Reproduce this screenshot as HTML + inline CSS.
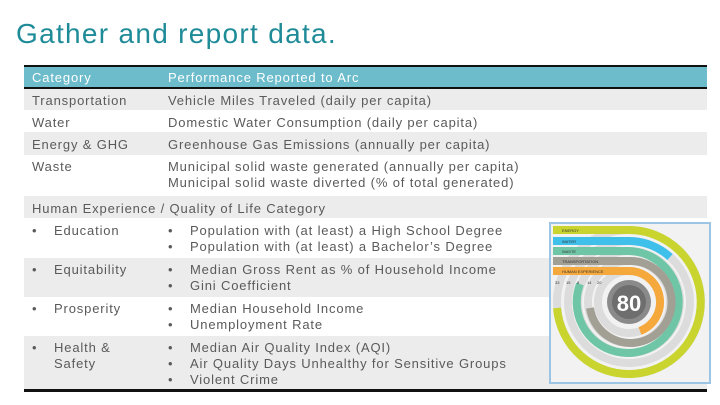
<!DOCTYPE html>
<html><head><meta charset="utf-8"><style>
*{margin:0;padding:0;box-sizing:border-box}
body{width:720px;height:405px;background:#fff;font-family:"Liberation Sans",sans-serif;position:relative;overflow:hidden;color:#5a5a5a}
.t{position:absolute;font-size:13px;line-height:16px;white-space:nowrap;letter-spacing:0.85px}
.r{position:absolute;left:24px;width:683px}
.g{background:#ececec}
h1{position:absolute;left:16px;top:18px;font-size:28px;font-weight:normal;color:#1f8b98;letter-spacing:1.3px}
</style></head><body>
<h1>Gather and report data.</h1>
<div class="r" style="top:65px;height:24px;background:#6dbccb;border-top:2px solid #111;border-bottom:2px solid #111"></div>
<div class="r g" style="top:89px;height:21px"></div>
<div class="r g" style="top:132px;height:23px"></div>
<div class="r g" style="top:196px;height:22px"></div>
<div class="r g" style="top:258px;height:39px"></div>
<div class="r g" style="top:336px;height:54px"></div>
<div class="r" style="top:389px;height:3px;background:#111"></div>

<div class="t" style="left:32px;top:70px;color:#fff">Category</div>
<div class="t" style="left:168px;top:70px;color:#fff">Performance Reported to Arc</div>
<div class="t" style="left:32px;top:93px">Transportation</div>
<div class="t" style="left:168px;top:93px">Vehicle Miles Traveled (daily per capita)</div>
<div class="t" style="left:32px;top:115px">Water</div>
<div class="t" style="left:168px;top:115px">Domestic Water Consumption (daily per capita)</div>
<div class="t" style="left:32px;top:137px">Energy &amp; GHG</div>
<div class="t" style="left:168px;top:137px">Greenhouse Gas Emissions (annually per capita)</div>
<div class="t" style="left:32px;top:159px">Waste</div>
<div class="t" style="left:168px;top:159px">Municipal solid waste generated (annually per capita)<br>Municipal solid waste diverted (% of total generated)</div>
<div class="t" style="left:32px;top:201px">Human Experience / Quality of Life Category</div>

<div class="t" style="left:32px;top:223px">•</div><div class="t" style="left:54px;top:223px">Education</div>
<div class="t" style="left:168px;top:223px">•<br>•</div><div class="t" style="left:190px;top:223px">Population with (at least) a High School Degree<br>Population with (at least) a Bachelor’s Degree</div>
<div class="t" style="left:32px;top:262px">•</div><div class="t" style="left:54px;top:262px">Equitability</div>
<div class="t" style="left:168px;top:262px">•<br>•</div><div class="t" style="left:190px;top:262px">Median Gross Rent as % of Household Income<br>Gini Coefficient</div>
<div class="t" style="left:32px;top:301px">•</div><div class="t" style="left:54px;top:301px">Prosperity</div>
<div class="t" style="left:168px;top:301px">•<br>•</div><div class="t" style="left:190px;top:301px">Median Household Income<br>Unemployment Rate</div>
<div class="t" style="left:32px;top:340px">•</div><div class="t" style="left:54px;top:340px">Health &amp;<br>Safety</div>
<div class="t" style="left:168px;top:340px">•<br>•<br>•</div><div class="t" style="left:190px;top:340px">Median Air Quality Index (AQI)<br>Air Quality Days Unhealthy for Sensitive Groups<br>Violent Crime</div>

<svg style="position:absolute;left:549px;top:222px" width="162" height="162" viewBox="549 222 162 162">
<rect x="550" y="223" width="160" height="160" fill="#f2f2f2" stroke="#9cc4e4" stroke-width="2"/>
<g fill="none" stroke="#dcdcdc" stroke-width="8">
<circle cx="629" cy="302" r="72"/><circle cx="629" cy="302" r="61"/><circle cx="629" cy="302" r="51"/><circle cx="629" cy="302" r="41"/><circle cx="629" cy="302" r="31"/>
</g>
<g fill="none" stroke-width="8">
<path d="M553 230 H629 A72 72 0 1 1 557 308" stroke="#c9d52e"/>
<path d="M553 241 H629 A61 61 0 0 1 670 257" stroke="#3fc0ea"/>
<path d="M553 251 H629 A51 51 0 1 1 580 284" stroke="#6fc6a6"/>
<path d="M553 261 H629 A41 41 0 1 1 590 308" stroke="#a29f95"/>
<path d="M553 271 H629 A31 31 0 0 1 640 331" stroke="#f5a93c"/>
</g>
<g font-size="4" fill="#333" font-family="Liberation Sans">
<text x="562" y="232">ENERGY</text><text x="562" y="243">WATER</text><text x="562" y="253">WASTE</text><text x="562" y="263">TRANSPORTATION</text><text x="562" y="273">HUMAN EXPERIENCE</text>
<text x="555" y="284">33</text><text x="566" y="284">15</text><text x="577" y="284">8</text><text x="587" y="284">14</text><text x="597" y="284">20</text>
</g>
<circle cx="629" cy="302" r="22" fill="#8a8a8a"/>
<circle cx="629" cy="302" r="17" fill="#6e6e6e"/>
<text x="629" y="311" font-size="22" font-weight="bold" fill="#fff" text-anchor="middle" font-family="Liberation Sans">80</text>
</svg>
</body></html>
